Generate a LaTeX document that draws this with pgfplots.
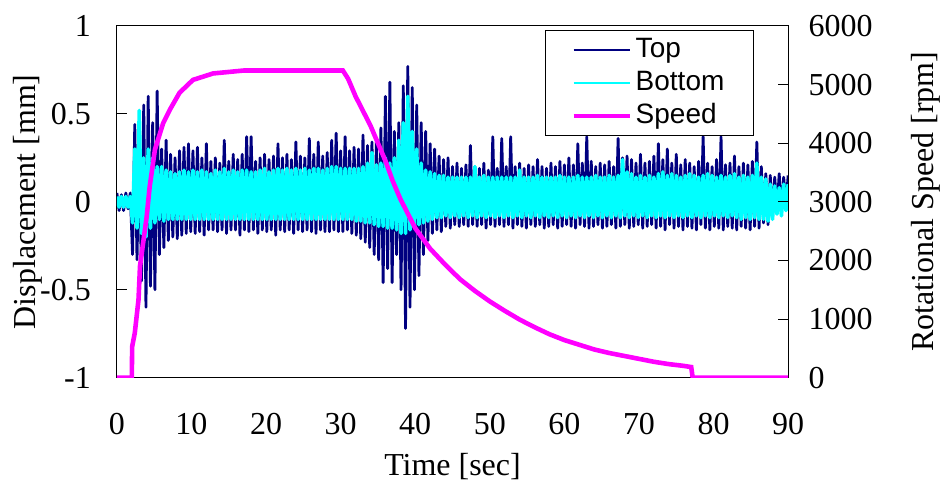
\documentclass[border=0pt]{standalone}
\usepackage{fontspec}
\setmainfont{Liberation Serif}
\newfontfamily\legfont{Liberation Sans}
\usepackage{pgfplots}
\usepackage{pgfplotstable}
\pgfplotsset{compat=1.18}

\definecolor{topc}{RGB}{0,0,128}
\definecolor{botc}{RGB}{0,255,255}
\definecolor{spdc}{RGB}{255,0,255}

% displacement envelopes (alternating peak / trough)
\pgfplotstableread{
t top bot
0.0 0.05 0.03
0.3 -0.05 -0.03
0.6 0.04 0.03
0.9 -0.05 -0.03
1.2 0.05 0.03
1.5 -0.04 -0.03
1.8 0.05 0.03
2.1 -0.30 -0.12
2.4 0.44 0.30
2.7 -0.33 -0.15
3.0 0.35 0.52
3.3 -0.45 -0.18
3.6 0.55 0.25
3.9 -0.60 -0.20
4.2 0.60 0.30
4.5 -0.48 -0.15
4.8 0.45 0.25
5.1 -0.50 -0.12
5.4 0.63 0.20
5.7 -0.30 -0.10
6.0 0.30 0.20
6.3 -0.26 -0.11
6.6 0.35 0.18
6.9 -0.22 -0.10
7.2 0.27 0.17
7.5 -0.20 -0.10
7.8 0.25 0.16
8.1 -0.21 -0.10
8.4 0.29 0.17
8.7 -0.19 -0.10
9.0 0.31 0.18
9.3 -0.18 -0.10
9.6 0.33 0.17
9.9 -0.17 -0.10
10.2 0.29 0.18
10.5 -0.18 -0.10
10.8 0.31 0.17
11.1 -0.17 -0.10
11.4 0.25 0.18
11.7 -0.19 -0.10
12.0 0.33 0.17
12.3 -0.16 -0.10
12.6 0.23 0.16
12.9 -0.16 -0.10
13.2 0.25 0.18
13.5 -0.17 -0.10
13.8 0.22 0.17
14.1 -0.16 -0.10
14.4 0.35 0.19
14.7 -0.18 -0.10
15.0 0.23 0.17
15.3 -0.16 -0.10
15.6 0.27 0.18
15.9 -0.16 -0.10
16.2 0.24 0.17
16.5 -0.19 -0.10
16.8 0.27 0.18
17.1 -0.16 -0.10
17.4 0.37 0.18
17.7 -0.17 -0.10
18.0 0.37 0.17
18.3 -0.16 -0.10
18.6 0.23 0.17
18.9 -0.18 -0.10
19.2 0.25 0.18
19.5 -0.16 -0.10
19.8 0.27 0.19
20.1 -0.17 -0.10
20.4 0.24 0.17
20.7 -0.16 -0.10
21.0 0.26 0.18
21.3 -0.19 -0.10
21.6 0.33 0.19
21.9 -0.16 -0.10
22.2 0.25 0.18
22.5 -0.17 -0.10
22.8 0.27 0.19
23.1 -0.16 -0.10
23.4 0.24 0.18
23.7 -0.18 -0.10
24.0 0.34 0.19
24.3 -0.16 -0.10
24.6 0.26 0.18
24.9 -0.17 -0.10
25.2 0.25 0.19
25.5 -0.16 -0.10
25.8 0.36 0.18
26.1 -0.17 -0.10
26.4 0.27 0.19
26.7 -0.18 -0.10
27.0 0.34 0.19
27.3 -0.16 -0.10
27.6 0.26 0.18
27.9 -0.17 -0.10
28.2 0.28 0.19
28.5 -0.17 -0.10
28.8 0.35 0.20
29.1 -0.16 -0.10
29.4 0.39 0.20
29.7 -0.17 -0.10
30.0 0.29 0.19
30.3 -0.17 -0.10
30.6 0.37 0.19
30.9 -0.16 -0.10
31.2 0.29 0.19
31.5 -0.18 -0.10
31.8 0.31 0.19
32.1 -0.19 -0.11
32.4 0.30 0.19
32.7 -0.21 -0.11
33.0 0.38 0.20
33.3 -0.23 -0.12
33.6 0.32 0.22
33.9 -0.26 -0.12
34.2 0.34 0.28
34.5 -0.30 -0.13
34.8 0.35 0.21
35.1 -0.33 -0.14
35.4 0.42 0.22
35.7 -0.46 -0.14
36.0 0.60 0.25
36.3 -0.38 -0.15
36.6 0.68 0.22
36.9 -0.46 -0.15
37.2 0.40 0.25
37.5 -0.30 -0.16
37.8 0.45 0.35
38.1 -0.50 -0.18
38.4 0.66 0.45
38.7 -0.72 -0.18
39.0 0.77 0.60
39.3 -0.60 -0.16
39.6 0.65 0.40
39.9 -0.50 -0.14
40.2 0.55 0.30
40.5 -0.42 -0.13
40.8 0.45 0.22
41.1 -0.30 -0.12
41.4 0.40 0.18
41.7 -0.22 -0.11
42.0 0.33 0.17
42.3 -0.18 -0.10
42.6 0.30 0.16
42.9 -0.16 -0.09
43.2 0.26 0.15
43.5 -0.17 -0.09
43.8 0.24 0.15
44.1 -0.14 -0.08
44.4 0.25 0.14
44.7 -0.15 -0.09
45.0 0.20 0.14
45.3 -0.13 -0.08
45.6 0.22 0.14
45.9 -0.14 -0.09
46.2 0.19 0.14
46.5 -0.13 -0.08
46.8 0.21 0.14
47.1 -0.14 -0.09
47.4 0.32 0.14
47.7 -0.13 -0.08
48.0 0.20 0.20
48.3 -0.14 -0.09
48.6 0.19 0.14
48.9 -0.13 -0.08
49.2 0.22 0.15
49.5 -0.15 -0.09
49.8 0.18 0.14
50.1 -0.13 -0.08
50.4 0.37 0.14
50.7 -0.14 -0.09
51.0 0.19 0.14
51.3 -0.13 -0.08
51.6 0.36 0.14
51.9 -0.14 -0.09
52.2 0.20 0.14
52.5 -0.13 -0.08
52.8 0.37 0.14
53.1 -0.15 -0.09
53.4 0.20 0.14
53.7 -0.13 -0.08
54.0 0.22 0.18
54.3 -0.14 -0.09
54.6 0.19 0.14
54.9 -0.15 -0.08
55.2 0.21 0.14
55.5 -0.13 -0.09
55.8 0.20 0.14
56.1 -0.14 -0.08
56.4 0.24 0.15
56.7 -0.13 -0.09
57.0 0.20 0.14
57.3 -0.15 -0.08
57.6 0.19 0.14
57.9 -0.14 -0.09
58.2 0.22 0.14
58.5 -0.13 -0.08
58.8 0.20 0.14
59.1 -0.15 -0.09
59.4 0.23 0.15
59.7 -0.14 -0.08
60.0 0.21 0.14
60.3 -0.13 -0.09
60.6 0.25 0.14
60.9 -0.14 -0.08
61.2 0.21 0.14
61.5 -0.15 -0.09
61.8 0.33 0.15
62.1 -0.13 -0.08
62.4 0.22 0.14
62.7 -0.14 -0.09
63.0 0.37 0.14
63.3 -0.15 -0.08
63.6 0.23 0.14
63.9 -0.14 -0.09
64.2 0.20 0.15
64.5 -0.13 -0.08
64.8 0.22 0.14
65.1 -0.15 -0.09
65.4 0.21 0.14
65.7 -0.14 -0.08
66.0 0.23 0.15
66.3 -0.13 -0.09
66.6 0.20 0.14
66.9 -0.15 -0.08
67.2 0.36 0.15
67.5 -0.14 -0.09
67.8 0.25 0.24
68.1 -0.13 -0.08
68.4 0.26 0.17
68.7 -0.15 -0.09
69.0 0.24 0.16
69.3 -0.14 -0.08
69.6 0.22 0.14
69.9 -0.13 -0.09
70.2 0.27 0.15
70.5 -0.15 -0.08
70.8 0.22 0.14
71.1 -0.14 -0.09
71.4 0.23 0.15
71.7 -0.13 -0.08
72.0 0.26 0.14
72.3 -0.15 -0.09
72.6 0.33 0.16
72.9 -0.14 -0.08
73.2 0.24 0.17
73.5 -0.16 -0.09
73.8 0.30 0.15
74.1 -0.13 -0.08
74.4 0.22 0.16
74.7 -0.15 -0.09
75.0 0.27 0.15
75.3 -0.14 -0.08
75.6 0.21 0.14
75.9 -0.16 -0.09
76.2 0.24 0.15
76.5 -0.14 -0.08
76.8 0.22 0.16
77.1 -0.15 -0.09
77.4 0.20 0.15
77.7 -0.16 -0.08
78.0 0.23 0.14
78.3 -0.13 -0.09
78.6 0.37 0.15
78.9 -0.15 -0.08
79.2 0.22 0.16
79.5 -0.16 -0.09
79.8 0.20 0.15
80.1 -0.14 -0.08
80.4 0.24 0.14
80.7 -0.15 -0.09
81.0 0.37 0.15
81.3 -0.16 -0.08
81.6 0.21 0.14
81.9 -0.14 -0.09
82.2 0.22 0.15
82.5 -0.15 -0.08
82.8 0.26 0.16
83.1 -0.16 -0.09
83.4 0.20 0.14
83.7 -0.14 -0.10
84.0 0.22 0.15
84.3 -0.15 -0.09
84.6 0.21 0.14
84.9 -0.16 -0.10
85.2 0.23 0.15
85.5 -0.14 -0.09
85.8 0.34 0.22
86.1 -0.15 -0.10
86.4 0.20 0.14
86.7 -0.12 -0.10
87.0 0.16 0.13
87.3 -0.13 -0.11
87.6 0.15 0.10
87.9 -0.08 -0.10
88.2 0.14 0.09
88.5 -0.05 -0.07
88.8 0.16 0.08
89.1 -0.06 -0.08
89.4 0.14 0.10
89.7 -0.02 -0.05
90.0 0.15 0.10
}\sig

\pgfplotstableread{
t rpm
0 0
2.0 0
2.05 530
2.4 760
2.9 1330
3.1 1900
4.0 2750
4.4 3260
5.1 3890
6.2 4340
7.1 4570
8.4 4860
10.2 5080
12.9 5190
17 5240
30.3 5240
31 5100
32 4800
33 4550
34 4300
35 4000
36 3700
37 3350
38 3050
39 2800
40 2550
42 2200
44 1930
46 1680
48 1480
50 1300
52 1140
54 990
56 860
58 740
60 640
62 560
64 480
66 420
68 370
70 320
72 270
74 230
76 200
77 180
77.2 0
90 0
}\speed

\pgfplotsset{
  common/.style={
    scale only axis, width=336pt, height=176pt,
    xmin=0, xmax=90,
    tick align=inside, major tick length=5pt,
    tick style={black, line width=0.5pt},
    ticklabel style={font=\fontsize{16}{19}\selectfont},
    label style={font=\fontsize{16}{19}\selectfont},
    /pgf/number format/assume math mode=true,
    /pgf/number format/1000 sep={},
  }
}

\begin{document}
\begin{tikzpicture}
\useasboundingbox (-58.5pt,-52pt) rectangle (414pt,189pt);
\begin{axis}[common,
  ymin=-1, ymax=1,
  xtick={0,10,...,90}, ytick={-1,-0.5,0,0.5,1},
  ytick pos=left, xtick pos=bottom,
  x tick style={draw=none},
  axis line style={black, line width=0.5pt},
  x axis line style={gray, line width=1pt},
  xticklabel style={yshift=-14.5pt},
  yticklabel style={xshift=-9.5pt},
  xlabel={Time [sec]}, ylabel={Displacement [mm]},
  xlabel style={at={(axis description cs:0.5,0)}, anchor=center, yshift=-44.5pt},
  ylabel style={at={(axis description cs:-0.1332,0.5)}, anchor=center},
]
\addplot[topc, line width=1.4pt, line join=round] table[x=t, y=top] {\sig};
\addplot[botc, line width=1.8pt, line join=round] table[x=t, y=bot] {\sig};
\end{axis}
\begin{axis}[common,
  ymin=0, ymax=6000,
  axis x line=none, axis y line*=right,
  y axis line style={black, line width=0.5pt},
  ytick={0,1000,...,6000}, scaled y ticks=false,
  yticklabel style={xshift=6.7pt},
  ylabel={Rotational Speed [rpm]},
  ylabel style={at={(axis description cs:1.2054,0.5)}, anchor=center},
  legend style={at={(0.949,0.989)}, anchor=north east, draw=black, fill=white,
    font=\legfont\fontsize{14}{16.5}\selectfont,
    inner xsep=13pt, inner ysep=1.5pt, line width=0.6pt,
    nodes={text height=10.5pt, text depth=3pt, inner sep=1.5pt}},
  legend cell align=left,
  legend image code/.code={\draw[#1] (0pt,0pt) -- (28.5pt,0pt);},
]
\addlegendimage{topc, line width=1pt}
\addlegendentry{Top}
\addlegendimage{botc, line width=1pt}
\addlegendentry{Bottom}
\addplot[spdc, line width=2.3pt] table[x=t, y=rpm] {\speed};
\addlegendentry{Speed}
\end{axis}
\end{tikzpicture}
\end{document}
